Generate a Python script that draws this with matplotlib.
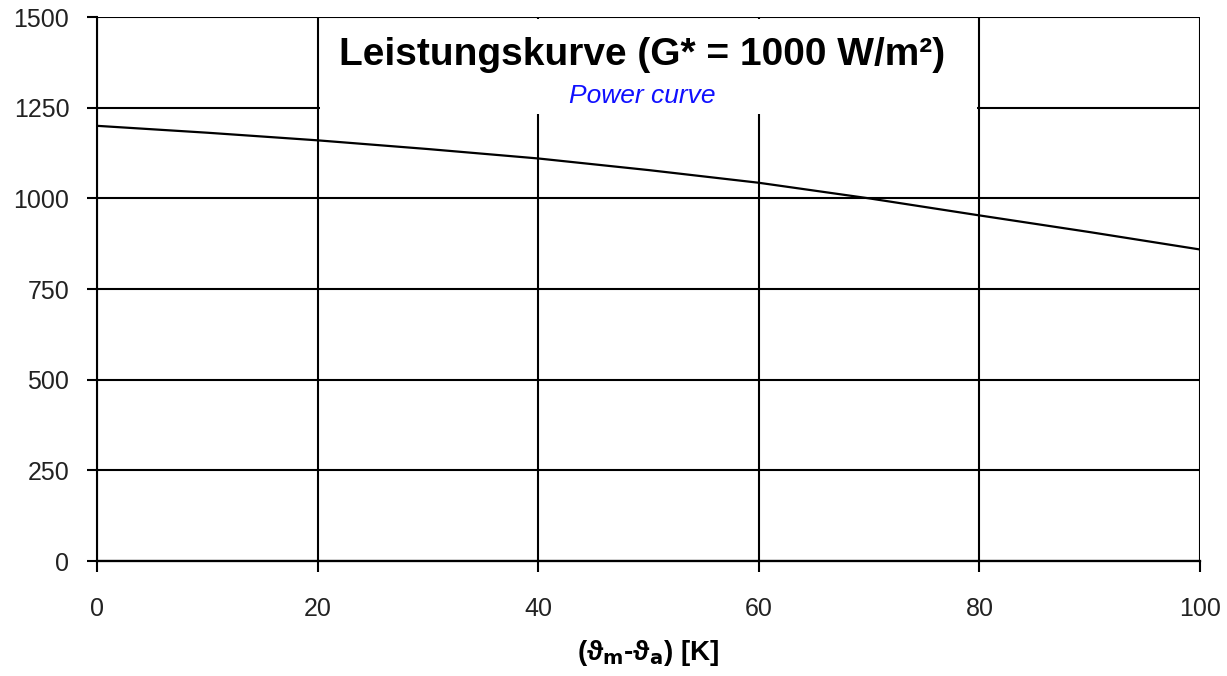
import matplotlib
matplotlib.use("Agg")
import matplotlib.pyplot as plt
from matplotlib.patches import Rectangle

plt.rcParams['font.family'] = ['Liberation Sans', 'DejaVu Sans']

# Daten: Temperaturdifferenz (K) und Leistung (W)
dT = [0, 10, 20, 30, 40, 50, 60, 70, 80, 90, 100]
leistung = [1200, 1181, 1160, 1136, 1110, 1078, 1043, 1000, 953, 907, 859]
null_linie = [0] * len(dT)

x_ticks = [0, 20, 40, 60, 80, 100]
y_ticks = [0, 250, 500, 750, 1000, 1250, 1500]

fig = plt.figure(figsize=(12.27, 6.76), dpi=100)
ax = fig.add_axes([0.0791, 0.1701, 0.8989, 0.8047])

ax.plot(dT, null_linie, color='black', lw=1.6, zorder=3, clip_on=False)
ax.plot(dT, leistung, color='black', lw=1.6, zorder=3)

ax.set_xlim(0, 100)
ax.set_ylim(0, 1500)
ax.set_xticks(x_ticks)
ax.set_yticks(y_ticks)
ax.grid(True, color='black', lw=1.5)
ax.set_axisbelow(True)
for s in ['top', 'right']:
    ax.spines[s].set_visible(False)
ax.spines['left'].set_linewidth(1.5)
ax.spines['bottom'].set_linewidth(1.5)
ax.tick_params(axis='y', length=7, width=1.5, pad=13, labelsize=18, colors='black', labelcolor='#222222')
ax.tick_params(axis='x', length=8, width=1.5, pad=18, labelsize=18, colors='black', labelcolor='#222222')

# weisser Kasten hinter dem Titel
ax.add_patch(Rectangle((20.25, 1232), 59.5, 263, facecolor='white', edgecolor='none', zorder=2))
ax.text(49.4, 1395, 'Leistungskurve (G* = 1000 W/m²)', ha='center', va='center',
        fontsize=28, fontweight='bold', zorder=4)
ax.text(49.4, 1282, 'Power curve', ha='center', va='center', fontsize=19,
        style='italic', color='#1010ff', zorder=4)

ax.set_xlabel(r'(ϑ$_\mathbf{m}$-ϑ$_\mathbf{a}$) [K]', fontsize=20, fontweight='bold', labelpad=12)

fig.savefig('out.png', dpi=100)
